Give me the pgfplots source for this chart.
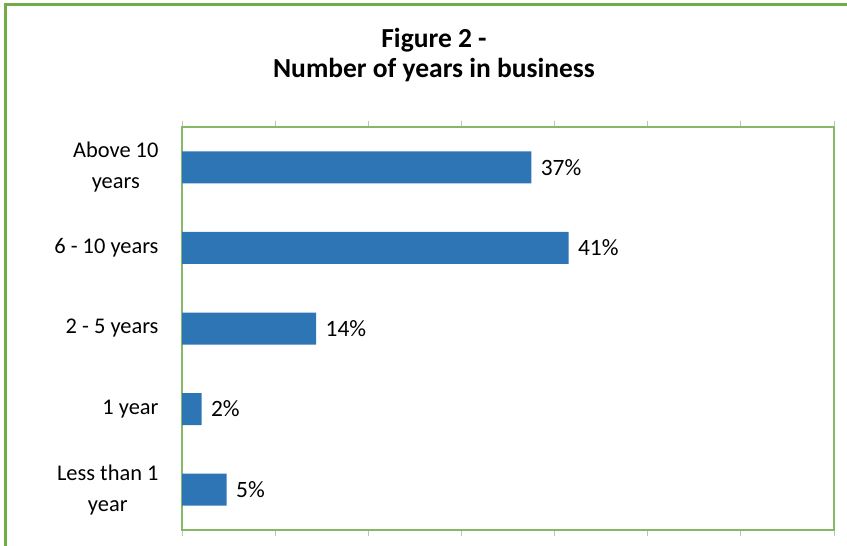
\documentclass[border=0pt]{standalone}
\usepackage{pgfplots}
\pgfplotsset{compat=1.18}
\usepackage{fontspec}
\setmainfont{Carlito}
\definecolor{bargreen}{HTML}{70AD47}
\definecolor{barblue}{HTML}{2E75B6}
\definecolor{tickgray}{HTML}{BFBFBF}
\begin{document}
\begin{tikzpicture}[x=1bp,y=1bp]
\useasboundingbox (0,0) rectangle (847,-546);
\draw[bargreen, line width=3bp] (5,-548) -- (5,-5) -- (849,-5);
\node[align=center, font=\bfseries\fontsize{27.6}{31}\selectfont] at (434,-55) {Figure 2 -\\Number of years in business};
\begin{axis}[
  at={(182bp,-530bp)}, anchor=south west,
  width=652bp, height=403bp, scale only axis,
  xmin=0, xmax=70, ymin=-0.5, ymax=4.5,
  xtick={0,10,...,70}, xticklabels={},
  ytick={0,1,2,3,4},
  yticklabels={{Less than 1\\year},{1 year},{2 - 5 years},{6 - 10 years},{Above 10\\years}},
  yticklabel style={align=center, font=\fontsize{22.5}{31}\selectfont, xshift=-14bp},
  extra y ticks={-0.5,0.5,1.5,2.5,3.5,4.5}, extra y tick labels={},
  extra y tick style={major tick length=6bp, tick style={tickgray, line width=0.8bp}, tick align=outside},
  ytick style={draw=none},
  xtick style={tickgray, line width=0.8bp},
  tick align=outside, major tick length=6bp,
  axis line style={bargreen!85, line width=1.2bp},
  xbar, bar width=32bp, bar shift=0pt,
  point meta=explicit symbolic,
  nodes near coords,
  nodes near coords style={anchor=west, xshift=6bp, font=\fontsize{23.5}{26}\selectfont, text=black},
]
\addplot[fill=barblue, draw=none] table[meta=lbl] {
x y lbl
4.8 0 5\%
2.1 1 2\%
14.4 2 14\%
41.5 3 41\%
37.5 4 37\%
};
\end{axis}
\end{tikzpicture}
\end{document}
